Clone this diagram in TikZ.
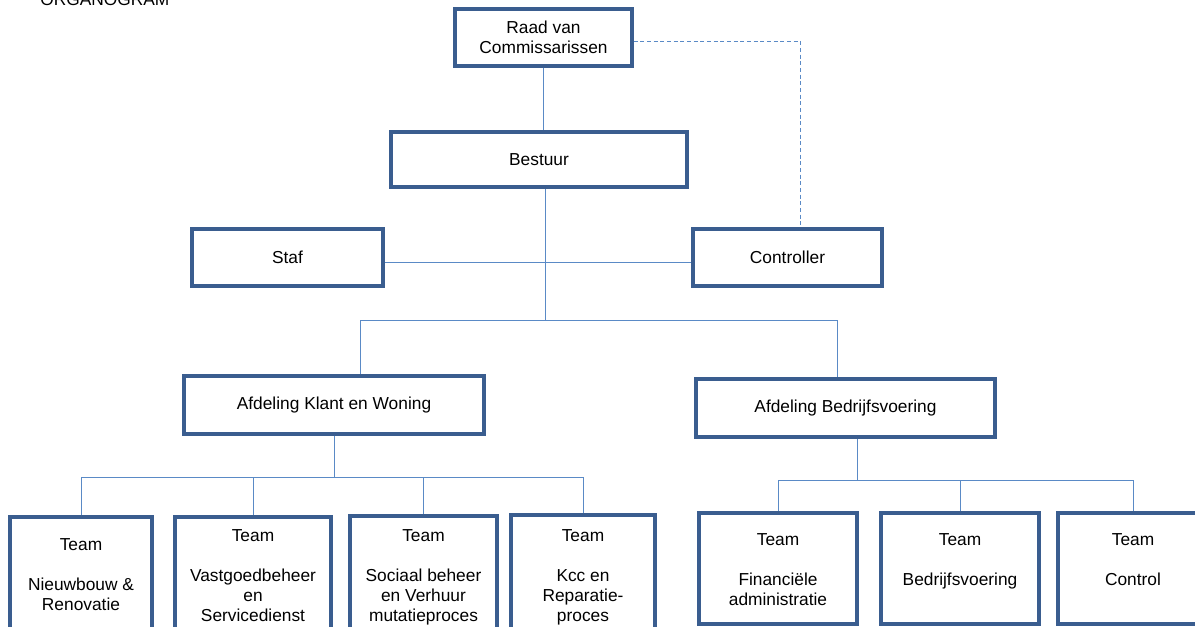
\documentclass[tikz,border=0pt]{standalone}
\usepackage{fontspec}
\setmainfont{Liberation Sans}
\usepackage{tikz}
\usetikzlibrary{positioning,calc}
\definecolor{boxblue}{HTML}{3A5D8F}
\definecolor{linkblue}{HTML}{5A8AC6}
\tikzset{
  orgbox/.style={draw=boxblue, line width=2.6pt, fill=white, align=center, inner sep=2pt},
  teambox/.style={orgbox, minimum height=97.5pt},
  teamtxt/.style={anchor=north, align=center, inner sep=0pt},
  link/.style={draw=linkblue, line width=0.7pt},
  linkd/.style={link, dash pattern=on 3pt off 2pt},
}
\begin{document}
\begin{tikzpicture}[x=0.75pt, y=-0.75pt, font=\fontsize{13pt}{15pt}\selectfont]
  \clip (0,0) rectangle (1195,626);
  \fill[white] (0,0) rectangle (1195,626);
  \node[anchor=base west, inner sep=0pt](title) at (40,5){ORGANOGRAM};
  % top
  \node[orgbox,minimum width=132.75pt,minimum height=42.75pt](raad) at (543.5,37.5){Raad van\\Commissarissen};
  \node[orgbox,minimum width=222pt,minimum height=41.25pt](bestuur) at (539,159.5){Bestuur};
  \node[orgbox,minimum width=143.25pt,minimum height=42.75pt](staf) at (287.5,257.5){Staf};
  \node[orgbox,minimum width=141.75pt,minimum height=42.75pt](controller) at (787.5,257.5){Controller};
  % afdelingen
  \node[orgbox,minimum width=225pt,minimum height=43.5pt](klant) at (334,405){Afdeling Klant en Woning};
  \node[orgbox,minimum width=224.25pt,minimum height=43.5pt](bedrijf) at (845.5,408){Afdeling Bedrijfsvoering};
  % teams
  \node[teambox,minimum width=106.5pt](t1) at (81,582){};
  \node[teambox,minimum width=117pt](t2) at (253,582){};
  \node[teambox,minimum width=110.25pt](t3) at (423.5,581){};
  \node[teambox,minimum width=108pt](t4) at (583,580){};
  \node[teambox,minimum width=118.5pt,minimum height=83.25pt](t5) at (778,568.5){};
  \node[teambox,minimum width=118.5pt,minimum height=83.25pt](t6) at (960,568.5){};
  \node[teambox,minimum width=112.5pt,minimum height=83.25pt](t7) at (1133,568.5){};
  \node[teamtxt](t1l) at (81,538){Team\\[15pt]Nieuwbouw \&\\Renovatie};
  \node[teamtxt](t2l) at (253,529){Team\\[15pt]Vastgoedbeheer\\en\\Servicedienst};
  \node[teamtxt](t3l) at (423.5,529){Team\\[15pt]Sociaal beheer\\en Verhuur\\mutatieproces};
  \node[teamtxt](t4l) at (583,529){Team\\[15pt]Kcc en\\Reparatie-\\proces};
  \node[teamtxt](t5l) at (778,533){Team\\[15pt]Financiële\\administratie};
  \node[teamtxt](t6l) at (960,533){Team\\[15pt]Bedrijfsvoering};
  \node[teamtxt](t7l) at (1133,533){Team\\[15pt]Control};
  % lines
  \coordinate (bus1) at (545,320);
  \coordinate (b1l) at (360,320);
  \coordinate (b1r) at (837,320);
  \coordinate (b2) at (335,477);
  \coordinate (b3) at (857,480);
  \coordinate (dk) at (800,41);
  \draw[link](raad.south)--(raad.south |- bestuur.north);
  \draw[link]([yshift=-3.4pt]staf.east)--([yshift=-3.4pt]controller.west);
  \draw[link](bus1 |- bestuur.south)--(bus1);
  \draw[link](b1l |- klant.north)--(b1l)--(b1r)--(b1r |- bedrijf.north);
  \draw[link](klant.south)--(klant.south |- b2);
  \draw[link](t1.north |- b2)--(t4.north |- b2);
  \foreach \t in {t1,t2,t3,t4}
    \draw[link](\t.north |- b2)--(\t.north);
  \draw[link](b3 |- bedrijf.south)--(b3);
  \draw[link](t5.north |- b3)--(t7.north |- b3);
  \foreach \t in {t5,t6,t7}
    \draw[link](\t.north |- b3)--(\t.north);
  \draw[linkd](raad.east |- dk)--(dk)--(dk |- controller.north);
\end{tikzpicture}
\end{document}
